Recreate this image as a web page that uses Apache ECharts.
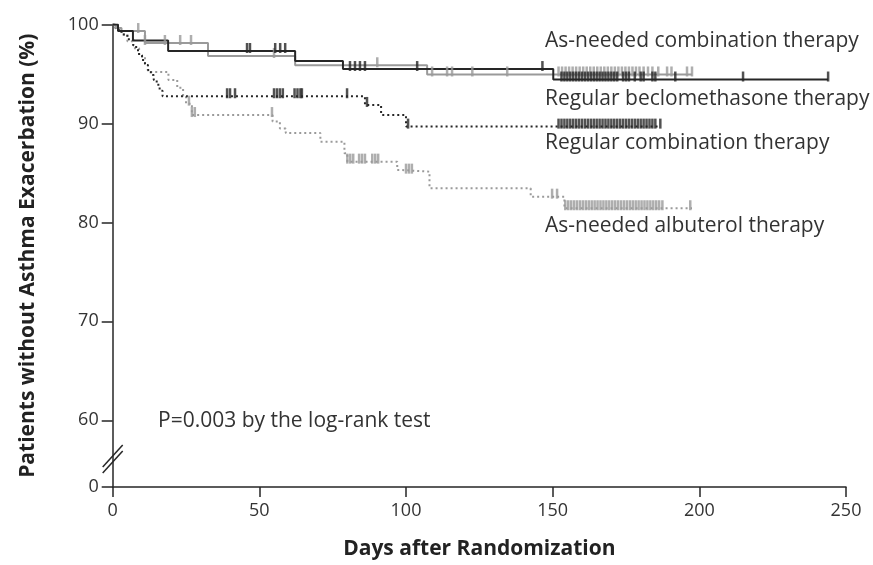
<!DOCTYPE html>
<html>
<head>
<meta charset="utf-8">
<script src="https://cdn.jsdelivr.net/npm/echarts@6/dist/echarts.min.js"></script>
<style>
  html, body { margin: 0; padding: 0; background: #fff; }
  #chart { width: 873px; height: 565px; }
</style>
</head>
<body>
<div id="chart"></div>
<script>
// axis ticks
const xTicks = [0, 50, 100, 150, 200, 250];
const yTicks = [60, 70, 80, 90, 100];
const Y_ZERO = 53.26; // the broken axis draws "0" here

// Kaplan-Meier steps: [day, % without exacerbation from that day on]
const regularBeclo = [
  [0, 100], [1.8, 99.34], [6.9, 98.38], [18.9, 97.32], [62.2, 96.31],
  [78.5, 95.5], [150.2, 94.44], [243.9, 94.44]
];
const asNeededCombo = [
  [0, 100], [1.1, 99.65], [3, 99.34], [11, 98.13], [32.5, 96.82],
  [62.2, 95.88], [107.2, 94.95], [197.5, 94.95]
];
const regularCombo = [
  [0, 100], [1, 99.5], [3, 99.0], [5, 98.5], [7, 97.9], [8, 97.4],
  [9, 96.9], [10, 96.4], [11, 95.9], [12, 95.4], [13, 94.9], [14, 94.4],
  [15, 93.9], [16, 93.3], [17, 92.75], [86, 91.87], [91.5, 90.86],
  [100, 89.68], [186.7, 89.68]
];
const asNeededAlbuterol = [
  [0, 100], [1, 99.6], [3, 99.0], [5, 98.3], [7, 97.6], [9, 96.8],
  [11, 96.0], [12, 95.2], [19, 94.4], [22, 93.6], [24, 92.8], [25, 92.0],
  [27, 90.85], [54.5, 90.2], [57, 89.5], [59, 89.04], [70.8, 88.16],
  [79, 87.0], [80, 86.14], [97, 85.3], [98, 85.13], [108, 83.45],
  [142.5, 82.6], [154, 81.43], [197.5, 81.43]
];

// censored observations (days)
const censorBeclo = [
  45.8, 46.8, 55.4, 57.1, 58.8, 80.9, 82.6, 84.3, 86.0, 103.8, 146.5,
  153, 154, 155, 156, 157, 158, 159, 160, 161, 162, 163, 164, 165, 166,
  167, 168, 169, 170, 171, 172, 174, 175, 176, 178, 180, 181, 184, 185,
  191.8, 214.9, 243.9
];
const censorAsNeededCombo = [
  8.7, 11, 17.8, 23, 26.7, 55, 90.2, 108.9, 114, 115.7, 122.6, 134.5,
  152, 153.2, 154.4, 155.6, 156.8, 158, 159.2, 160.4, 161.6, 162.8, 164,
  165.2, 166.4, 167.6, 168.8, 170, 171.2, 172.4, 173.6, 174.8, 176, 177.2,
  178.4, 179.6, 181, 182.5, 184, 186, 189, 190.5, 195.8, 197.5
];
const censorRegularCombo = [
  39, 40, 41.7, 55, 56, 57, 58, 62, 63, 64, 64.5, 79.9, 86.7, 100.7,
  152, 153, 154, 155, 156, 157, 158, 159, 160, 161, 162, 163, 164, 165,
  166, 167, 168, 169, 170, 171, 172, 173, 174, 175, 176, 177, 178, 179,
  180, 181, 182, 183, 184, 185, 186.7
];
const censorAlbuterol = [
  26, 27, 28, 54.3, 80, 81, 82, 84, 85, 86, 88.5, 89.5, 90.5, 100, 101,
  102, 149.8, 151.5, 154.3, 155.3, 156.3, 157.3, 158.3, 159.3, 160.3,
  161.3, 162.3, 163.3, 164.3, 165.3, 166.3, 167.3, 168.3, 169.3, 170.3,
  171.3, 172.3, 173.3, 174.3, 175.3, 176.3, 177.3, 178.3, 179.3, 180.3,
  181.3, 182.3, 183.3, 184.3, 185.3, 186.3, 187.4, 196.9
];

const BLACK = '#262626';
const GRAY = '#9a9a9a';
const FONT = '"Open Sans", "Noto Sans", sans-serif';

// value of the KM curve at day t
function valueAt(steps, t) {
  let v = steps[0][1];
  for (const [d, s] of steps) if (d <= t) v = s;
  return v;
}

function stepSeries(name, steps, color, dotted) {
  return {
    name, type: 'line', step: 'end', data: steps, symbol: 'none',
    animation: false, z: dotted ? 3 : 4,
    lineStyle: { color, width: 2, type: dotted ? [2, 3] : 'solid' }
  };
}

function censorSeries(name, steps, days, color) {
  return {
    name, type: 'scatter', animation: false, z: 5,
    symbol: 'rect', symbolSize: [2.5, 10], symbolOffset: [0, -3],
    itemStyle: { color },
    data: days.map(d => [d, valueAt(steps, d)])
  };
}

const chart = echarts.init(document.getElementById('chart'));

chart.setOption({
  backgroundColor: '#fff',
  grid: { left: 112.7, right: 27, top: 24.5, bottom: 77.3, containLabel: false },
  xAxis: {
    type: 'value', min: 0, max: 250, interval: 50,
    name: 'Days after Randomization', nameLocation: 'middle', nameGap: 52,
    nameTextStyle: { fontFamily: FONT, fontSize: 21, fontWeight: 'bold', color: '#222' },
    axisLine: { lineStyle: { color: BLACK, width: 1.5 } },
    axisTick: { length: 10, lineStyle: { color: BLACK, width: 1.5 } },
    axisLabel: { margin: 15, fontFamily: FONT, fontSize: 18, color: '#333',
      formatter: v => xTicks.includes(v) ? String(v) : '' },
    splitLine: { show: false }
  },
  yAxis: {
    type: 'value', min: Y_ZERO, max: 100,
    name: 'Patients without Asthma Exacerbation (%)', nameLocation: 'middle', nameGap: 74,
    nameTextStyle: { fontFamily: FONT, fontSize: 21, fontWeight: 'bold', color: '#222' },
    axisLine: { show: true, lineStyle: { color: BLACK, width: 1.5 } },
    axisTick: { show: true, length: 11, customValues: [Y_ZERO, ...yTicks],
      lineStyle: { color: BLACK, width: 1.5 } },
    axisLabel: { margin: 14, fontFamily: FONT, fontSize: 18, color: '#333',
      customValues: [Y_ZERO, ...yTicks],
      formatter: v => Math.abs(v - Y_ZERO) < 0.01 ? '0' : String(Math.round(v)) },
    splitLine: { show: false }
  },
  series: [
    stepSeries('As-needed albuterol therapy', asNeededAlbuterol, GRAY, true),
    stepSeries('Regular combination therapy', regularCombo, BLACK, true),
    stepSeries('As-needed combination therapy', asNeededCombo, GRAY, false),
    stepSeries('Regular beclomethasone therapy', regularBeclo, BLACK, false),
    censorSeries('As-needed albuterol therapy', asNeededAlbuterol, censorAlbuterol, GRAY),
    censorSeries('Regular combination therapy', regularCombo, censorRegularCombo, BLACK),
    censorSeries('As-needed combination therapy', asNeededCombo, censorAsNeededCombo, GRAY),
    censorSeries('Regular beclomethasone therapy', regularBeclo, censorBeclo, BLACK)
  ]
});

// curve labels, p-value note and the axis break marks
const label = (text, x, y) => ({
  type: 'text', x, y,
  style: { text, font: '21px ' + FONT, fill: '#333', verticalAlign: 'middle' }
});
const brk = chart.convertToPixel({ gridIndex: 0 }, [0, 56.1]);
const slash = dy => ({
  type: 'line', z: 10,
  shape: { x1: brk[0] - 10, y1: brk[1] + 11 + dy, x2: brk[0] + 10, y2: brk[1] - 11 + dy },
  style: { stroke: BLACK, lineWidth: 1.5 }
});

chart.setOption({
  graphic: [
    label('As-needed combination therapy', 545, 41),
    label('Regular beclomethasone therapy', 545, 99),
    label('Regular combination therapy', 545, 143),
    label('As-needed albuterol therapy', 545, 226),
    label('P=0.003 by the log-rank test', 158, 421),
    slash(-3), slash(3)
  ]
});
</script>
</body>
</html>
